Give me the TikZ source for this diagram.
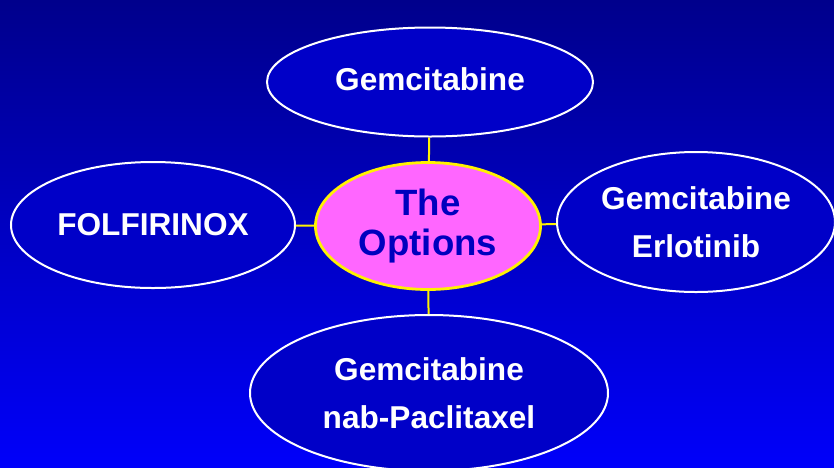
\documentclass[tikz,border=0pt]{standalone}
\usepackage{fontspec}
\setmainfont{Liberation Sans}
\usepackage{tikz}
\usetikzlibrary{shapes.geometric}
\definecolor{bgtop}{RGB}{0,0,140}
\definecolor{bgbot}{RGB}{0,0,250}
\definecolor{drugfill}{RGB}{0,0,200}
\definecolor{hubfill}{RGB}{255,102,255}
\definecolor{hubtext}{RGB}{0,0,190}
\tikzset{
  drug/.style={ellipse, draw=white, line width=1pt, fill=drugfill, text=white,
    inner sep=0, align=center, font=\bfseries\fontsize{15.8}{24}\selectfont},
  hub/.style={ellipse, draw=yellow, line width=1.4pt, fill=hubfill, text=hubtext,
    inner sep=0, align=center, font=\bfseries\fontsize{18.3}{20}\selectfont},
  link/.style={yellow, line width=1pt}
}

\begin{document}
\begin{tikzpicture}[x=0.5pt, y=-0.5pt]
    \useasboundingbox (0,0) rectangle (834,467);
    \clip (0,0) rectangle (834,467);
    \shade[top color=bgtop, bottom color=bgbot] (0,0) rectangle (834,467);
    % centre and the four options
    \node[hub, minimum width=112.5pt, minimum height=63.5pt] (hub) at (428,226) {The\\Options};
    \node[drug, minimum width=163pt, minimum height=54.5pt] (top) at (430,82) {Gemcitabine\rule[-3pt]{0pt}{3pt}};
    \node[drug, minimum width=142pt, minimum height=63pt] (left) at (153,225) {FOLFIRINOX};
    \node[drug, minimum width=139pt, minimum height=70pt] (right) at (696,222) {Gemcitabine\\Erlotinib};
    \node[drug, minimum width=179pt, minimum height=78pt] (bottom) at (429,393) {Gemcitabine\\nab-Paclitaxel};
    \draw[link] (hub) -- (top);
    \draw[link] (hub) -- (left);
    \draw[link] (hub) -- (right);
    \draw[link] (hub) -- (bottom);
\end{tikzpicture}
\end{document}
